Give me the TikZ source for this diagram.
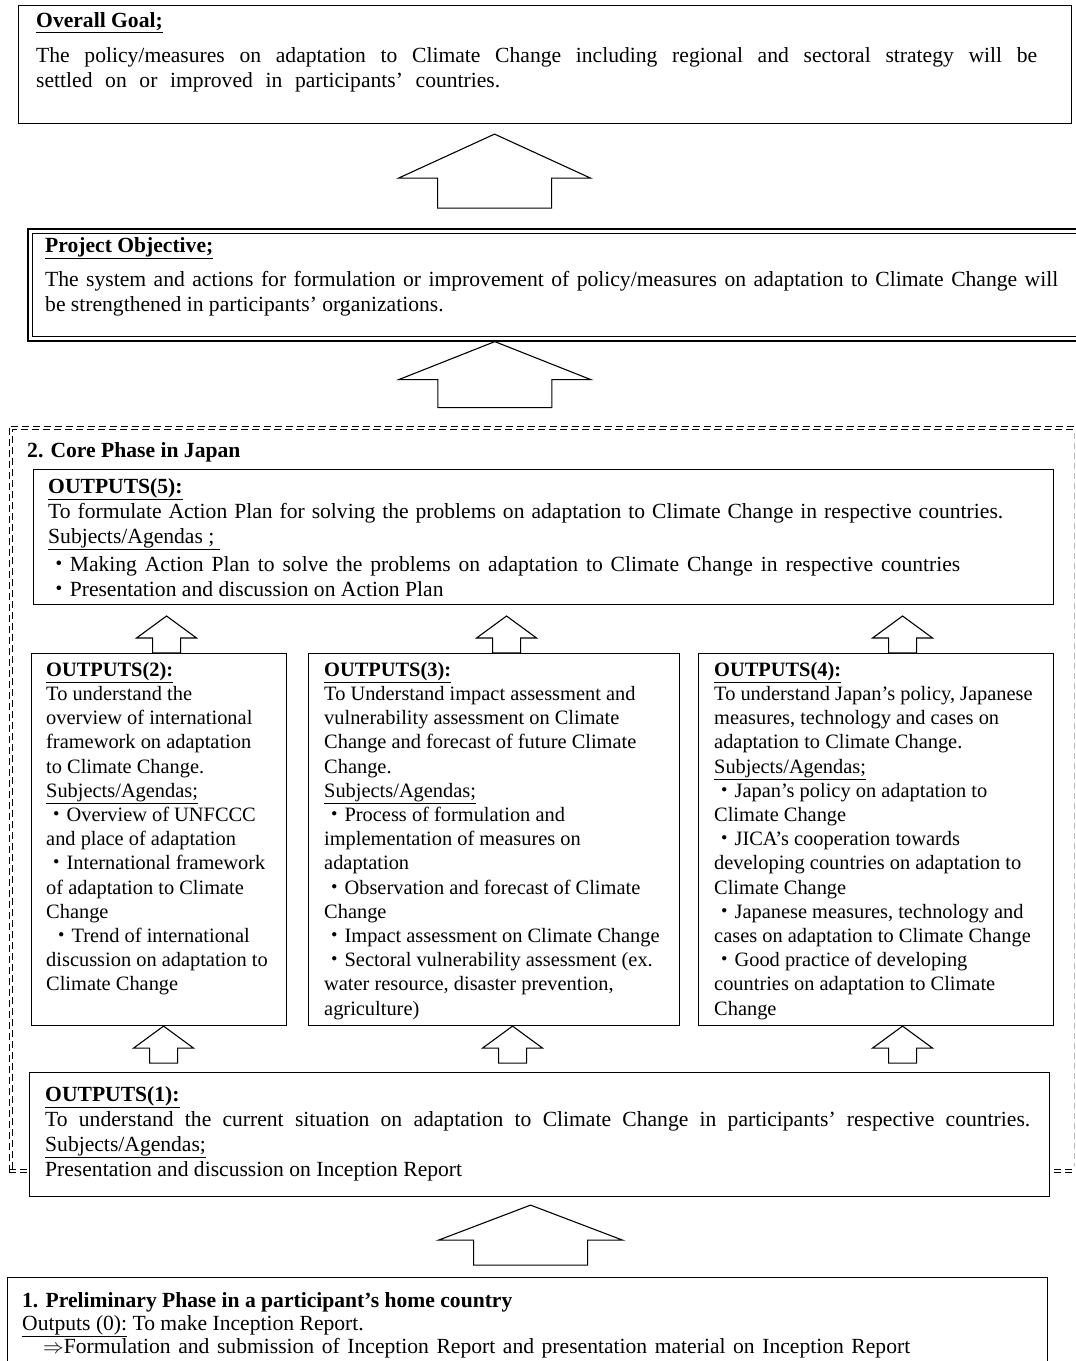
\documentclass[tikz,border=0pt]{standalone}
\usepackage{fontspec}
\setmainfont{Liberation Serif}
\newfontfamily\cjk{Noto Sans CJK JP}
\usetikzlibrary{positioning}

\newcommand{\dotitem}{{\cjk ・}}
\newcommand{\topstrut}{\rule{0pt}{17pt}}
% block arrow: tip, half width, half shaft, shoulder drop, length
\newcommand{\blockarrow}[5]{%
  \draw[blockup] (#1) -- ++(-#2,#4) -- ++(#2-#3,0) -- ++(0,#5-#4)
    -- ++(2*#3,0) -- ++(0,#4-#5) -- ++(#2-#3,0) -- cycle;}

\tikzset{
  box/.style = {draw, fill=white, line width=1.1pt, inner sep=0pt, anchor=north west},
  txt/.style = {anchor=north west, inner sep=0pt, align=left,
                font=\fontsize{20.4}{#1}\selectfont},
  txt/.default = 24.2,
  widetxt/.style = {anchor=north west, inner sep=0pt, align=left,
                font=\fontsize{21.6}{#1}\selectfont},
  widetxt/.default = 25,
  blockup/.style = {draw, fill=white, line width=1.1pt, line join=miter},
  coredash/.style = {draw, line width=1pt, dash pattern=on 7pt off 4pt},
  frameright/.style = {draw=gray!55, line width=1pt, dash pattern=on 6pt off 4pt}
}

\begin{document}
\begin{tikzpicture}[x=1pt, y=-1pt]
\clip (0,0) rectangle (1076,1361);
\fill[white] (0,0) rectangle (1076,1361);

% core phase frame (double dashed)
\draw[coredash] (9,1172) -- (9,426) -- (1080,426);
\draw[coredash] (12.5,1169) -- (12.5,429.5) -- (1080,429.5);
\draw[coredash] (9,1169) -- (1080,1169);
\draw[coredash] (9,1172.5) -- (1080,1172.5);
\draw[frameright] (1074,433) -- (1074,1166);

% goal
\node[box, minimum width=1053pt, minimum height=118pt] (goal) at (18,5) {};
\node[widetxt] (goaltxt) at ([xshift=18pt, yshift=-5pt]goal.north west)
  {\topstrut\underline{\textbf{Overall Goal;}}\\[10pt]
   \makebox[1001pt][s]{The policy/measures on adaptation to Climate Change including regional and sectoral strategy will be}\\
   \makebox[464pt][s]{settled on or improved in participants’ countries.}};

% objective
\node[box, line width=1.6pt, minimum width=1073pt, minimum height=112pt] (obj) at (27,228) {};
\draw[line width=0.8pt] ([xshift=5pt, yshift=-5pt]obj.north west) rectangle ([xshift=-5pt, yshift=5pt]obj.south east);
\node[widetxt] (objtxt) at ([xshift=18pt, yshift=-7pt]obj.north west)
  {\topstrut\underline{\textbf{Project Objective;}}\\[9pt]
   \makebox[1013pt][s]{The system and actions for formulation or improvement of policy/measures on adaptation to Climate Change will}\\
   be strengthened in participants’ organizations.};

\blockarrow{[xshift=-50.5pt, yshift=-10pt]goal.south}{96}{57}{44}{74}
\blockarrow{[xshift=-69.5pt]obj.south}{96}{57}{38}{66}

% core phase
\node[widetxt] (core) at (27,440) {\topstrut\textbf{2. Core Phase in Japan}};

\node[box, minimum width=1020pt, minimum height=135pt] (o5) at (33,469) {};
\node[widetxt] (o5txt) at ([xshift=15pt, yshift=-7pt]o5.north west)
  {\topstrut\underline{\textbf{OUTPUTS(5):}}\\
   \makebox[955pt][s]{To formulate Action Plan for solving the problems on adaptation to Climate Change in respective countries.}\\
   \underline{Subjects/Agendas ;\hspace{6pt}}\\[3pt]
   \makebox[912pt][s]{\dotitem Making Action Plan to solve the problems on adaptation to Climate Change in respective countries}\\
   \dotitem Presentation and discussion on Action Plan};

\node[box, minimum width=255pt, minimum height=372pt] (o2) at (31,653) {};
\node[txt] (o2txt) at ([xshift=15pt, yshift=-6pt]o2.north west)
  {\topstrut\underline{\textbf{OUTPUTS(2):}}\\
   To understand the\\
   overview of international\\
   framework on adaptation\\
   to Climate Change.\\
   \underline{Subjects/Agendas;}\\
   \dotitem Overview of UNFCCC\\
   and place of adaptation\\
   \dotitem International framework\\
   of adaptation to Climate\\
   Change\\
   \hspace{5pt}\dotitem Trend of international\\
   discussion on adaptation to\\
   Climate Change};

\node[box, minimum width=371pt, minimum height=372pt] (o3) at (308,653) {};
\node[txt] (o3txt) at ([xshift=16pt, yshift=-6pt]o3.north west)
  {\topstrut\underline{\textbf{OUTPUTS(3):}}\\
   To Understand impact assessment and\\
   vulnerability assessment on Climate\\
   Change and forecast of future Climate\\
   Change.\\
   \underline{Subjects/Agendas;}\\
   \dotitem Process of formulation and\\
   implementation of measures on\\
   adaptation\\
   \dotitem Observation and forecast of Climate\\
   Change\\
   \dotitem Impact assessment on Climate Change\\
   \dotitem Sectoral vulnerability assessment (ex.\\
   water resource, disaster prevention,\\
   agriculture)};

\node[box, minimum width=355pt, minimum height=372pt] (o4) at (698,653) {};
\node[txt] (o4txt) at ([xshift=16pt, yshift=-6pt]o4.north west)
  {\topstrut\underline{\textbf{OUTPUTS(4):}}\\
   To understand Japan’s policy, Japanese\\
   measures, technology and cases on\\
   adaptation to Climate Change.\\
   \underline{Subjects/Agendas;}\\
   \dotitem Japan’s policy on adaptation to\\
   Climate Change\\
   \dotitem JICA’s cooperation towards\\
   developing countries on adaptation to\\
   Climate Change\\
   \dotitem Japanese measures, technology and\\
   cases on adaptation to Climate Change\\
   \dotitem Good practice of developing\\
   countries on adaptation to Climate\\
   Change};

\node[box, minimum width=1020pt, minimum height=124pt] (o1) at (29,1072) {};
\node[widetxt] (o1txt) at ([xshift=16pt, yshift=-12pt]o1.north west)
  {\topstrut\underline{\textbf{OUTPUTS(1):}}\\
   \makebox[985pt][s]{To understand the current situation on adaptation to Climate Change in participants’ respective countries.}\\
   \underline{Subjects/Agendas;}\\
   Presentation and discussion on Inception Report};

% arrows inside core phase
\blockarrow{[xshift=7.5pt, yshift=37pt]o2.north}{30}{14}{22}{37}
\blockarrow{[xshift=12.5pt, yshift=37pt]o3.north}{30}{14}{22}{37}
\blockarrow{[xshift=26.5pt, yshift=37pt]o4.north}{30}{14}{22}{37}
\blockarrow{[xshift=4.5pt]o2.south}{30}{14}{22}{37}
\blockarrow{[xshift=18.5pt]o3.south}{30}{14}{22}{37}
\blockarrow{[xshift=26.5pt]o4.south}{30}{14}{22}{37}

% preliminary phase
\node[box, minimum width=1040pt, minimum height=140pt] (pre) at (7,1277) {};
\node[widetxt=23] (pretxt) at ([xshift=15pt, yshift=-13pt]pre.north west)
  {\topstrut\textbf{1. Preliminary Phase in a participant’s home country}\\
   \underline{Outputs (0):} To make Inception Report.\\
   \hspace{21pt}\makebox[867pt][s]{$\Rightarrow$Formulation and submission of Inception Report and presentation material on Inception Report}};

\blockarrow{[xshift=-9pt, yshift=-8pt]o1.south}{92}{57}{35}{60}
\end{tikzpicture}
\end{document}
